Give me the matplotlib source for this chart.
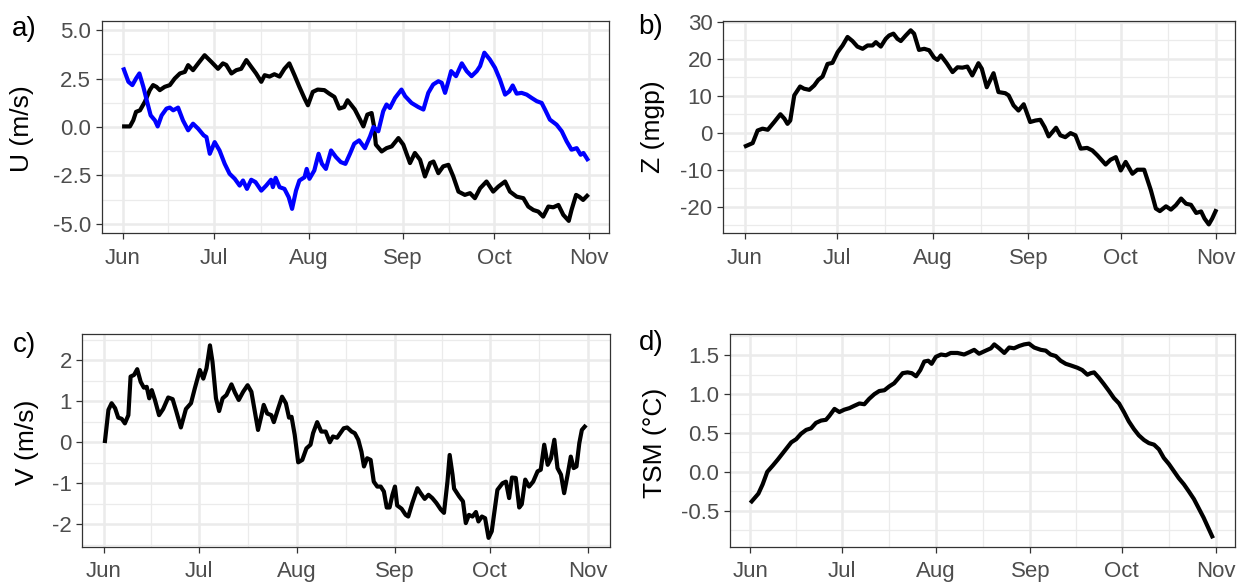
import matplotlib
matplotlib.use("Agg")
import matplotlib.pyplot as plt
from matplotlib.ticker import MultipleLocator
import pandas as pd

plt.rcParams['font.family'] = ['Liberation Sans', 'DejaVu Sans']
plt.rcParams['axes.unicode_minus'] = False

# ---- data (days counted from 1 June) ----
u_black_days = [0.5, 2.4, 3.5, 4.4, 5.7, 7.3, 8.9, 10, 11.1, 12.2, 13.8, 15.5, 17.1, 18.8, 20.4, 21.5,
                23.1, 24.8, 26.9, 29.1, 31.3, 32.9, 34, 35.7, 37.3, 38.9, 40.6, 42.2, 43.8, 45.5, 46.6,
                48.2, 49.8, 51.5, 53.1, 54.7, 56.4, 58, 59.7, 60.8, 62.4, 64, 66.2, 67.8, 69.5, 71.1,
                72.7, 73.8, 76.2, 77.9, 79, 80.3, 81.7, 82.5, 83.1, 85, 86.6, 88.3, 90.5, 92.1, 94.3,
                95.9, 97.6, 99.2, 100.9, 102, 103.6, 105.2, 106.9, 108.5, 110.2, 112.3, 114, 115.6,
                117.3, 119.4, 121.6, 123.3, 125.5, 127.1, 129.3, 131.5, 133.1, 134.8, 136.4, 138,
                139.7, 141.3, 143, 144.6, 146.4, 147.3, 148.8, 149.8, 151.1, 152.4]
u_black = [0.03, 0.03, 0.35, 0.78, 0.86, 1.3, 1.9, 2.16, 2.07, 1.9, 2.07, 2.16, 2.5, 2.76, 2.84, 3.19,
           2.93, 3.28, 3.7, 3.36, 3.0, 3.28, 3.2, 2.76, 2.93, 3.0, 3.45, 3.1, 2.76, 2.33, 2.67,
           2.6, 2.72, 2.6, 3.0, 3.28, 2.67, 2.07, 1.47, 1.12, 1.81, 1.93, 1.9, 1.72, 1.55, 0.95,
           1.03, 1.38, 0.9, 0.38, 0.03, 0.64, 0.72, 0.03, -0.91, -1.26, -1.09, -1.0, -0.57, -0.91, -1.86,
           -1.34, -1.69, -2.55, -1.86, -1.78, -2.38, -2.03, -1.95, -2.55, -3.33, -3.5, -3.41, -3.67,
           -3.16, -2.81, -3.33, -3.07, -2.81, -3.33, -3.59, -3.67, -4.1, -4.28, -4.36, -4.62,
           -4.1, -4.14, -4.02, -4.53, -4.84, -4.28, -3.5, -3.59, -3.76, -3.55]

u_blue_days = [0.4, 1.9, 3.2, 4.4, 5.5, 6.8, 7.9, 9.2, 10.6, 11.5, 12.8, 14.4, 15.5, 16.6, 18.2, 19.8,
               21.5, 23.1, 24.8, 26.6, 27.5, 28.6, 30.2, 31.8, 33.5, 35.1, 36.8, 38.4, 39.5, 40.8,
               42.2, 43.6, 45.5, 47.1, 48.7, 49.3, 50.2, 51.5, 53.1, 54.5, 55.6, 56.9, 58, 59.7,
               60.4, 61.3, 62.9, 64.3, 65.4, 66.7, 68.4, 70, 71.6, 73.1, 74.6, 76, 77.6, 79.5, 81.2,
               82.3, 83.9, 85.5, 86.6, 87.7, 89.4, 91.5, 92.7, 94.8, 97, 98.7, 100.3, 101.9, 103.6,
               104.7, 105.8, 106.9, 107.8, 109.4, 111.3, 112.9, 114.5, 116.2, 117.3, 118.7, 120.5,
               122.2, 123.8, 125.5, 126.9, 128, 129.3, 130.9, 132.6, 134.2, 135.9, 137.5, 138.6,
               140.2, 142.4, 144.1, 145.7, 147.3, 149, 150.3, 151.2, 152.5]
u_blue = [2.97, 2.33, 2.16, 2.5, 2.76, 2.07, 1.38, 0.6, 0.34, 0.03, 0.6, 0.95, 1.0, 0.86, 1.0, 0.34,
          -0.17, 0.17, -0.09, -0.43, -0.52, -1.38, -0.78, -1.21, -1.9, -2.41, -2.67, -3.02, -2.76, -3.19,
          -2.72, -2.84, -3.28, -3.02, -2.72, -3.1, -2.62, -3.1, -3.19, -3.62, -4.22, -3.28, -2.76, -2.59,
          -2.16, -2.67, -2.24, -1.38, -1.9, -2.16, -1.21, -1.55, -1.81, -1.9, -1.38, -0.86, -0.69, -1.09, -0.48,
          0.0, -0.22, 0.81, 1.16, 0.98, 1.5, 1.93, 1.59, 1.24, 1.03, 0.9, 1.76, 2.19, 2.36,
          2.28, 1.76, 2.36, 2.88, 2.62, 3.28, 2.88, 2.62, 2.88, 3.14, 3.83, 3.48,
          3.05, 2.45, 1.67, 1.84, 2.14, 1.72, 1.76, 1.67, 1.5, 1.33, 1.24, 0.9,
          0.38, 0.12, -0.22, -0.74, -1.17, -1.09, -1.43, -1.34, -1.66]

z_days = [0.3, 2.5, 4.1, 5.7, 7.4, 9.5, 11.5, 12.8, 13.8, 14.7, 16, 17.9, 19.2, 20.9, 22.5, 23.8, 25.2,
          26.8, 28.4, 30.1, 31.7, 33.3, 34.9, 36.5, 38.2, 39.8, 41.4, 42.5, 44.1, 45.7, 46.8, 48.2,
          49.5, 50.6, 52.2, 53.8, 54.9, 56.5, 58.2, 59.8, 61.4, 62.5, 63.6, 65.5, 67.4, 69, 70.6,
          72.2, 73.8, 75.8, 76.9, 78.5, 80.7, 82.3, 84.5, 85.6, 87.2, 88.8, 90.5, 92.6, 94.3, 95.9,
          97.3, 98.6, 101, 102.4, 104, 105.7, 107.3, 109, 111.1, 112.8, 114.4, 117.1, 118.7, 120.4,
          122, 123.6, 125.8, 127.4, 129.6, 131.8, 133.4, 134.7, 136.7, 138.3, 139.9, 141.6, 143.2,
          144.8, 146.5, 148.1, 149.2, 150.6, 151.7, 152.8]
z_vals = [-3.6, -2.8, 0.6, 1.1, 0.8, 2.9, 5.0, 3.8, 2.4, 3.3, 10.1, 12.5, 11.9, 11.6, 12.8, 14.3, 15.2,
          18.6, 18.9, 21.8, 23.6, 25.9, 24.8, 23.3, 22.7, 23.6, 23.6, 24.5, 23.3, 25.4, 26.3, 26.8,
          25.4, 24.8, 26.3, 27.7, 26.8, 22.4, 22.7, 22.3, 20.3, 19.7, 20.9, 18.8, 16.4, 17.7, 17.6,
          17.9, 15.5, 18.8, 17.3, 12.3, 16.1, 11.0, 10.7, 10.1, 7.4, 6.0, 7.7, 2.9, 3.3, 3.5,
          1.5, -1.0, 1.35, -0.7, -1.2, -0.1, -0.7, -4.3, -4.1, -4.8, -6.1, -8.6, -7.3, -6.6,
          -10.2, -7.9, -11.1, -10.0, -10.0, -15.6, -20.5, -21.2, -19.9, -20.8, -19.6, -17.8, -19.2,
          -19.5, -21.7, -21.3, -23.2, -24.8, -23.2, -21.2]

v_days = [0.3, 1.4, 2.4, 3.5, 4.5, 5.6, 6.6, 7.7, 8.4, 9.5, 10.5, 11.6, 12.6, 13.5, 14.3, 15.1, 16.1,
          17.4, 18.7, 20.3, 21.7, 22.9, 24.3, 25.1, 25.9, 27.5, 28.7, 30.3, 31.4, 32.4, 33.5, 34.3,
          35.4, 36.4, 37.5, 38.7, 40.3, 41.4, 42.6, 44, 45.4, 46.6, 47.7, 48.7, 49.8, 50.5, 51.6,
          52.9, 53.7, 55.1, 56.3, 57.5, 58.5, 59.3, 60.3, 61.4, 62.7, 64, 65.3, 66.1, 67.4, 68.7,
          70.1, 71.4, 72.4, 73.7, 75.8, 76.9, 78.3, 79.3, 80.4, 81.4, 82.2, 83.2, 84.3, 85.3, 86.4,
          87.5, 88.5, 89.4, 90.3, 91.2, 92, 92.7, 94.1, 95.4, 96.2, 97.5, 99.1, 100.1, 101.4, 102.6,
          103.8, 105.1, 106.5, 107.5, 108.6, 109.3, 110.2, 110.7, 112.3, 113.5, 114.4, 115.4, 116.5,
          117.6, 118.4, 119.5, 120.5, 121.6, 122.6, 123.4, 124.4, 126, 127.1, 128.1, 129, 130.2,
          131.3, 132.1, 133.2, 134.4, 135.7, 137.1, 138.1, 139.2, 140.3, 141.3, 142.4, 143.4,
          144.5, 145.5, 146.6, 147.6, 148.5, 149.4, 150.3, 151.1, 152]
v_vals = [0.03, 0.79, 0.95, 0.83, 0.6, 0.57, 0.46, 0.66, 1.6, 1.64, 1.78, 1.47, 1.33, 1.35, 1.07, 1.27, 1.03,
          0.66, 0.81, 1.09, 1.05, 0.74, 0.36, 0.58, 0.81, 0.95, 1.31, 1.76, 1.55, 1.8, 2.36, 1.96,
          1.07, 0.76, 1.07, 1.15, 1.41, 1.21, 1.03, 1.23, 1.39, 1.23, 0.74, 0.3, 0.66, 0.91, 0.7,
          0.66, 0.49, 0.83, 1.11, 0.95, 0.6, 0.62, 0.18, -0.49, -0.43, -0.15, -0.06, 0.22, 0.49, 0.26,
          0.26, 0.0, 0.14, 0.11, 0.34, 0.36, 0.26, 0.22, 0.06, -0.23, -0.59, -0.39, -0.43, -0.96, -1.08,
          -1.08, -1.2, -1.59, -1.59, -1.28, -1.08, -1.54, -1.62, -1.77, -1.81, -1.48, -1.12, -1.24, -1.38, -1.28,
          -1.36, -1.48, -1.64, -1.72, -0.96, -0.31, -0.79, -1.13, -1.32, -1.44, -1.97, -1.77, -1.81,
          -1.7, -1.93, -1.81, -1.85, -2.33, -2.17, -1.72, -1.16, -1.0, -0.96, -1.36, -0.86, -0.87,
          -1.59, -1.51, -0.91, -1.08, -0.96, -0.71, -0.67, -0.06, -0.55, -0.4, 0.06, -0.63,
          -0.79, -1.24, -0.79, -0.35, -0.63, -0.59, -0.02, 0.3, 0.38]

tsm_days = [0.4, 2.6, 4.0, 5.5, 7.3, 9, 11.2, 13.4, 15, 16.6, 18.3, 19.9, 21.5, 23.2, 24.8, 25.9, 27.6,
            29.2, 30.8, 32.5, 34.1, 35.8, 37.4, 39, 40.7, 42.3, 44, 45.6, 47.2, 48.3, 50, 51.6, 53,
            54.4, 55.8, 57.1, 58.4, 59.5, 60.9, 62.6, 64.2, 65.8, 68, 70.2, 71.9, 73.5, 75.1, 77.3,
            79, 80.1, 81.7, 83.4, 85, 86.6, 88.3, 89.9, 91.5, 93.2, 95.4, 97, 98.6, 100.3, 101.9,
            103.6, 105.2, 107.4, 109, 110.7, 111.8, 112.9, 114.5, 116.1, 117.8, 119.4, 121.1, 122.7,
            124.3, 126, 127.6, 129.3, 130.9, 132.6, 134.2, 135.8, 137.5, 139.1, 140.7, 142.4, 144,
            145.7, 147.3, 148.9, 150.3, 151.7]
tsm_vals = [-0.38, -0.28, -0.16, 0.0, 0.08, 0.16, 0.27, 0.38, 0.42, 0.49, 0.54, 0.56, 0.63, 0.66, 0.67, 0.72, 0.81,
            0.77, 0.8, 0.82, 0.85, 0.88, 0.87, 0.94, 1.0, 1.04, 1.05, 1.1, 1.14, 1.19, 1.27, 1.28, 1.27,
            1.23, 1.31, 1.42, 1.43, 1.39, 1.48, 1.51, 1.5, 1.53, 1.53, 1.51, 1.54, 1.57, 1.52, 1.56,
            1.59, 1.64, 1.59, 1.53, 1.6, 1.59, 1.62, 1.64, 1.65, 1.6, 1.57, 1.56, 1.51, 1.49, 1.43,
            1.39, 1.37, 1.34, 1.31, 1.25, 1.27, 1.28, 1.21, 1.13, 1.04, 0.95, 0.88, 0.77,
            0.65, 0.55, 0.47, 0.41, 0.37, 0.35, 0.29, 0.18, 0.1, 0.01, -0.08, -0.16, -0.25,
            -0.35, -0.47, -0.59, -0.71, -0.83]

month_labels = ['Jun', 'Jul', 'Aug', 'Sep', 'Oct', 'Nov']

START = pd.Timestamp('2019-06-01')
months = pd.date_range(START, periods=6, freq='MS')
mid_months = [months[i] + (months[i + 1] - months[i]) / 2 for i in range(5)]


def to_dates(days):
    return START + pd.to_timedelta(days, unit='D')


def style(ax, yticks, ylabels, yminor, ylim, xpad):
    ax.set_facecolor('white')
    ax.set_axisbelow(True)
    for s in ax.spines.values():
        s.set_color('#333333')
        s.set_linewidth(0.9)
    ax.set_xticks(months)
    ax.set_xticklabels(month_labels)
    ax.set_xticks(mid_months, minor=True)
    ax.set_yticks(yticks)
    ax.set_yticklabels(ylabels)
    ax.yaxis.set_minor_locator(MultipleLocator(yminor))
    ax.grid(which='major', color='#EBEBEB', lw=1.8)
    ax.grid(which='minor', color='#EBEBEB', lw=0.9)
    ax.tick_params(which='major', length=4.5, width=0.9, color='#333333',
                   labelsize=16, labelcolor='#4D4D4D')
    ax.tick_params(axis='x', which='major', pad=6)
    ax.tick_params(axis='y', which='major', pad=3)
    ax.tick_params(which='minor', length=0)
    ax.set_ylim(*ylim)
    ax.set_xlim(START - pd.Timedelta(days=xpad[0]), months[-1] + pd.Timedelta(days=xpad[1]))


W, H = 1238, 582
fig = plt.figure(figsize=(W / 100, H / 100), dpi=100)


def add_axes(l, t, r, b):
    return fig.add_axes([l / W, 1 - b / H, (r - l) / W, (b - t) / H])


ax_a = add_axes(101.6, 20.7, 609, 233.3)
ax_b = add_axes(722.8, 20.7, 1235, 233.3)
ax_c = add_axes(82.2, 334.3, 610, 546.7)
ax_d = add_axes(729.5, 334.3, 1235, 546.7)

ax_a.plot(to_dates(u_black_days), u_black, color='black', lw=3)
ax_a.plot(to_dates(u_blue_days), u_blue, color='#0000FF', lw=3)
style(ax_a, [-5, -2.5, 0, 2.5, 5], ['-5.0', '-2.5', '0.0', '2.5', '5.0'], 1.25,
      (-5.48, 5.48), (6.9, 6.6))

ax_b.plot(to_dates(z_days), z_vals, color='black', lw=3)
style(ax_b, [-20, -10, 0, 10, 20, 30], ['-20', '-10', '0', '10', '20', '30'], 5,
      (-27.2, 30.3), (7.2, 6.1))

ax_c.plot(to_dates(v_days), v_vals, color='black', lw=3)
style(ax_c, [-2, -1, 0, 1, 2], ['-2', '-1', '0', '1', '2'], 0.5,
      (-2.545, 2.63), (6.9, 7.0))

ax_d.plot(to_dates(tsm_days), tsm_vals, color='black', lw=3)
style(ax_d, [-0.5, 0, 0.5, 1.0, 1.5], ['-0.5', '0.0', '0.5', '1.0', '1.5'], 0.25,
      (-0.963, 1.77), (6.9, 6.2))

# axis titles and panel letters
for x, y, txt in [(22.5, 129, 'U (m/s)'), (653, 127, 'Z (mgp)'),
                  (27, 442, 'V (m/s)'), (655, 443, 'TSM (°C)')]:
    fig.text(x / W, 1 - y / H, txt, rotation=90, ha='center', va='center', fontsize=19, color='black')

for x, y, txt in [(24, 29, 'a)'), (651, 27, 'b)'), (24, 345, 'c)'), (651, 343, 'd)')]:
    fig.text(x / W, 1 - y / H, txt, ha='center', va='center', fontsize=20, color='black')

fig.savefig('out.png', dpi=100, facecolor='white')
